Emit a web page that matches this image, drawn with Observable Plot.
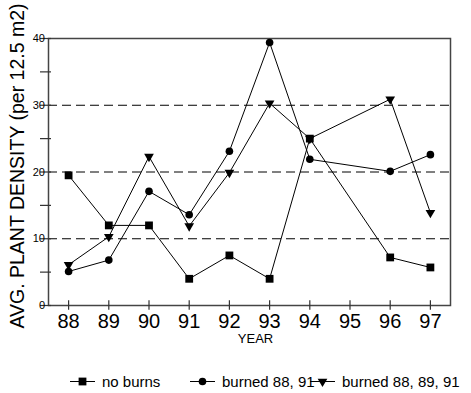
<!DOCTYPE html>
<html><head><meta charset="utf-8">
<script src="https://cdn.jsdelivr.net/npm/d3@7"></script>
<script src="https://cdn.jsdelivr.net/npm/@observablehq/plot@0.6"></script>
<style>
body{margin:0;background:#fff;font-family:"Liberation Sans",Arial,sans-serif}
#legend text{font-family:"Liberation Sans",Arial,sans-serif}
</style>
</head><body><div id="chart"></div><div id="legend"></div><script>
const years = [88, 89, 90, 91, 92, 93, 94, 96, 97];
const noBurns = [19.5, 12.0, 12.0, 4.0, 7.5, 4.0, 25.0, 7.2, 5.7];
const burned8891 = [5.1, 6.8, 17.1, 13.6, 23.1, 39.4, 21.9, 20.1, 22.6];
const burned888991 = [6.1, 10.3, 22.3, 11.9, 19.9, 30.3, 25.0, 30.9, 13.9];
const seriesNames = ["no burns", "burned 88, 91", "burned 88, 89, 91"];
const seriesSymbols = ["square", "circle", "triangle"];
const xTicks = [88, 89, 90, 91, 92, 93, 94, 95, 96, 97];
const yTicks = [0, 10, 20, 30, 40];
const yMinorTicks = [0, 5, 10, 15, 20, 25, 30, 35, 40];
const gridValues = [10, 20, 30];
const yLabel = "AVG. PLANT DENSITY (per 12.5 m2)";
const xLabel = "YEAR";

const seriesValues = [noBurns, burned8891, burned888991];
const rows = seriesValues.flatMap((vals, s) =>
  years.map((yr, i) => ({series: seriesNames[s], year: yr, value: vals[i]})));

const font = '"Liberation Sans",Arial,sans-serif';
const W = 471, H = 362;
const plot = Plot.plot({
  width: W, height: H,
  marginLeft: 48, marginRight: 21, marginTop: 38, marginBottom: 57,
  style: {fontFamily: font, color: "#000", background: "#fff", overflow: "visible"},
  x: {domain: [87.5, 97.5], axis: null},
  y: {domain: [0, 40], axis: null},
  marks: [
    Plot.ruleY(gridValues, {stroke: "#000", strokeWidth: 1, strokeDasharray: "9,5"}),
    Plot.frame({stroke: "#444", strokeWidth: 1.5}),
    Plot.ruleY(yMinorTicks, {x1: () => 87.5 - 8 / 40.2, x2: () => 87.5 + 3 / 40.2, stroke: "#333", strokeWidth: 1.2}),
    Plot.ruleX(xTicks, {y1: () => -0.7, y2: () => 0.7, stroke: "#333", strokeWidth: 1.2}),
    Plot.line(rows, {x: "year", y: "value", z: "series", stroke: "#000", strokeWidth: 1}),
    Plot.dot(rows.filter(d => d.series === seriesNames[0]), {x: "year", y: "value", symbol: "square", r: 4.4, fill: "#000", stroke: null}),
    Plot.dot(rows.filter(d => d.series === seriesNames[1]), {x: "year", y: "value", symbol: "circle", r: 3.8, fill: "#000", stroke: null}),
    Plot.dot(rows.filter(d => d.series === seriesNames[2]), {x: "year", y: "value", symbol: "triangle", r: 3.6, rotate: 180, fill: "#000", stroke: null}),
    Plot.text(xTicks, {x: d => d, frameAnchor: "bottom", lineAnchor: "top", dy: 8, fontSize: 20, text: d => String(d)}),
    Plot.text(yTicks, {y: d => d, frameAnchor: "left", textAnchor: "end", dx: -3.5, fontSize: 11, text: d => String(d)}),
    Plot.text([xLabel], {frameAnchor: "bottom", dy: 37, dx: 6, fontSize: 13}),
    Plot.text([yLabel], {frameAnchor: "left", textAnchor: "middle", rotate: -90, dx: -31, dy: -6, fontSize: 19.5})
  ]
});
document.getElementById("chart").appendChild(plot);

// Legend below the chart
const lg = d3.select("#legend").append("svg").attr("width", W).attr("height", 31);
const symMap = {square: d3.symbolSquare, circle: d3.symbolCircle, triangle: d3.symbolTriangle};
const symR = {square: 4.4, circle: 3.8, triangle: 3.6};
seriesNames.forEach((name, i) => {
  const g = lg.append("g").attr("transform", `translate(${70 + i * 120},19.5)`);
  g.append("line").attr("x1", 0).attr("x2", 25).attr("y1", 0).attr("y2", 0).attr("stroke", "#000");
  const sym = seriesSymbols[i];
  g.append("path")
    .attr("d", d3.symbol(symMap[sym], symR[sym] * symR[sym] * Math.PI)())
    .attr("transform", `translate(12.5,0)${sym === "triangle" ? " rotate(180)" : ""}`)
    .attr("fill", "#000");
  g.append("text").attr("x", 32).attr("y", 5.5).attr("font-size", 15).attr("fill", "#000").text(name);
});
</script></body></html>
